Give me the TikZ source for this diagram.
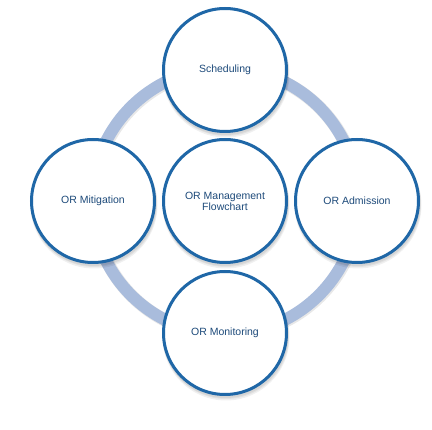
\documentclass[tikz,border=0pt]{standalone}
\usepackage{fontspec}
\setmainfont{Liberation Sans}
\definecolor{ringc}{HTML}{A9BCDC}
\definecolor{borderc}{HTML}{1F67A7}
\definecolor{textc}{HTML}{1D4A7A}
\begin{document}
\begin{tikzpicture}[x=1pt,y=-1pt,
  bubble/.style={circle, draw=borderc, line width=3pt, fill=white, minimum size=123pt, inner sep=0pt,
    font=\fontsize{10.5}{11}\selectfont, text=textc, align=center},
  shade1/.style={fill=black, opacity=0.06}]
\useasboundingbox (0,0) rectangle (432,430);
% ring shadow
\draw[black!30, opacity=0.3, line width=13pt] (226,202) circle (133);
\draw[ringc, line width=12pt] (225,201) circle (133);
% shadows of bubbles
\foreach \x/\y in {225/70, 93/201, 357/201, 225/333, 225/201}{
  \fill[shade1] (\x+1,\y+4) circle (63.5);
  \fill[shade1] (\x+1,\y+3) circle (63);
  \fill[shade1] (\x+0.5,\y+2) circle (63);
}
\node[bubble] (top) at (225,70) {Scheduling};
\node[bubble] (left) at (93,201) {OR Mitigation};
\node[bubble] (right) at (357,201) {OR Admission};
\node[bubble] (bottom) at (225,333) {OR Monitoring};
\node[bubble] (center) at (225,201) {OR Management\\Flowchart};
\end{tikzpicture}
\end{document}
